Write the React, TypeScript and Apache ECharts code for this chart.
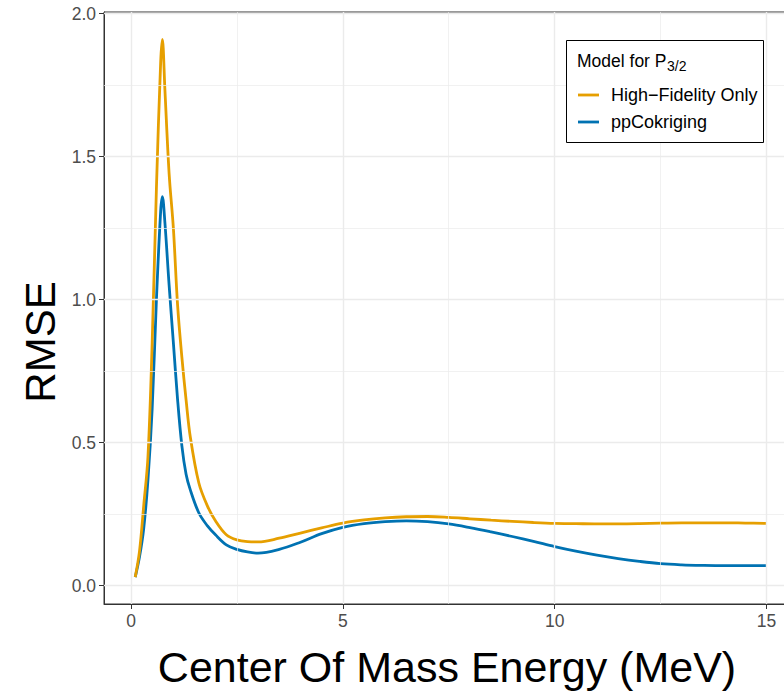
import React, { useEffect, useRef } from "react";
import * as echarts from "echarts";

const energy = [
  0.1, 0.2, 0.3, 0.4, 0.5, 0.6, 0.7, 0.74, 0.8, 0.9, 1.0, 1.1, 1.2, 1.3, 1.4,
  1.6, 1.8, 2.0, 2.25, 2.5, 2.75, 3.0, 3.5, 4.0, 4.5, 5.0, 5.5, 6.0, 6.5, 7.0,
  7.5, 8.0, 8.5, 9.0, 9.5, 10, 10.5, 11, 11.5, 12, 12.5, 13, 13.5, 14, 14.5, 15,
];
const highFidelity = [
  0.03, 0.12, 0.28, 0.45, 0.85, 1.39, 1.83, 1.91, 1.735, 1.44, 1.25, 0.98, 0.8,
  0.65, 0.52, 0.36, 0.28, 0.225, 0.178, 0.16, 0.154, 0.153, 0.166, 0.184, 0.202,
  0.219, 0.23, 0.237, 0.241, 0.242, 0.239, 0.234, 0.229, 0.225, 0.221, 0.218,
  0.217, 0.216, 0.216, 0.217, 0.219, 0.22, 0.22, 0.22, 0.219, 0.218,
];
const ppCokriging = [
  0.03, 0.1, 0.2, 0.37, 0.62, 1.0, 1.31, 1.36, 1.27, 1.05, 0.85, 0.65, 0.49,
  0.39, 0.335, 0.255, 0.21, 0.177, 0.143, 0.127, 0.118, 0.114, 0.127, 0.152,
  0.182, 0.204, 0.217, 0.224, 0.227, 0.224, 0.216, 0.203, 0.188, 0.172, 0.155,
  0.137, 0.121, 0.107, 0.095, 0.085, 0.077, 0.073, 0.071, 0.07, 0.07, 0.07,
];
const xTicks = [0, 5, 10, 15];
const xMinor = [2.5, 7.5, 12.5];
const yTicks = [0, 0.5, 1, 1.5, 2];
const yMinor = [0.25, 0.75, 1.25, 1.75];
const seriesNames = ["High\u2212Fidelity Only", "ppCokriging"];
const seriesColors = ["#E69F00", "#0072B2"];
const legendTitle = "Model for P";
const legendSub = "3/2";
const xTitle = "Center Of Mass Energy (MeV)";
const yTitle = "RMSE";

export default function App() {
  const ref = useRef<HTMLDivElement>(null);
  useEffect(() => {
    const chart = echarts.init(ref.current!, null, { renderer: "svg" });
    const font = "'Liberation Sans', Arial, Helvetica, sans-serif";
    const gl = (axis: string, v: number, w: number) => ({
      [axis]: v,
      lineStyle: { color: "#EBEBEB", width: w, type: "solid" },
    });
    const gridLines = [
      ...xMinor.map((v) => gl("xAxis", v, 0.7)),
      ...yMinor.map((v) => gl("yAxis", v, 0.7)),
      ...xTicks.map((v) => gl("xAxis", v, 1.4)),
      ...yTicks.map((v) => gl("yAxis", v, 1.4)),
    ];
    const series: any[] = [
      {
        name: "__grid",
        type: "line",
        data: [],
        z: 1,
        silent: true,
        markLine: {
          silent: true,
          symbol: ["none", "none"],
          label: { show: false },
          animation: false,
          data: gridLines,
        },
      },
      ...seriesNames.map((name, i) => ({
        name,
        type: "line",
        z: 3 + (1 - i),
        data: energy.map((e, j) => [e, i === 0 ? highFidelity[j] : ppCokriging[j]]),
        showSymbol: false,
        symbol: "none",
        smooth: 0.35,
        lineStyle: { color: seriesColors[i], width: 2.8 },
        itemStyle: { color: seriesColors[i] },
      })),
    ];
    chart.setOption({
      animation: false,
      backgroundColor: "#fff",
      grid: {
        left: 104,
        top: 12,
        right: 2,
        bottom: 89,
        show: true,
        borderColor: "#333",
        borderWidth: 1,
        backgroundColor: "#fff",
      },
      xAxis: {
        type: "value",
        min: -0.6375,
        max: 15.745,
        axisLine: { show: true, onZero: false, lineStyle: { color: "#333", width: 1 } },
        axisTick: { show: true, customValues: xTicks, length: 5, lineStyle: { color: "#333" } },
        axisLabel: {
          customValues: xTicks,
          color: "#4D4D4D",
          fontSize: 17.5,
          fontFamily: font,
          margin: 8,
        },
        splitLine: { show: false },
      },
      yAxis: {
        type: "value",
        min: -0.064,
        max: 2.006,
        axisLine: { show: true, onZero: false, lineStyle: { color: "#333", width: 1 } },
        axisTick: { show: true, customValues: yTicks, length: 5, lineStyle: { color: "#333" } },
        axisLabel: {
          customValues: yTicks,
          color: "#4D4D4D",
          fontSize: 17.5,
          fontFamily: font,
          margin: 8,
          formatter: (v: number) => v.toFixed(1),
        },
        splitLine: { show: false },
      },
      legend: {
        data: seriesNames,
        orient: "vertical",
        left: 578,
        top: 85,
        padding: 0,
        itemGap: 7,
        itemWidth: 21,
        itemHeight: 2.8,
        icon: "rect",
        z: 20,
        textStyle: {
          fontSize: 18,
          color: "#000",
          fontFamily: font,
          lineHeight: 20,
          padding: [0, 0, 0, 7],
        },
      },
      graphic: [
        {
          type: "text",
          z: 5,
          x: 447,
          y: 667,
          style: {
            text: xTitle,
            fontSize: 43,
            fontFamily: font,
            fill: "#000",
            align: "center",
            verticalAlign: "middle",
          },
        },
        {
          type: "text",
          z: 5,
          x: 40,
          y: 342,
          rotation: Math.PI / 2,
          style: {
            text: yTitle,
            fontSize: 42,
            fontFamily: font,
            fill: "#000",
            align: "center",
            verticalAlign: "middle",
          },
        },
        {
          type: "rect",
          z: 10,
          shape: { x: 566.5, y: 40.5, width: 197, height: 102 },
          style: { fill: "#fff", stroke: "#000", lineWidth: 1 },
        },
        {
          type: "text",
          z: 11,
          x: 577,
          y: 61,
          style: {
            text: legendTitle,
            fontSize: 17.5,
            fontFamily: font,
            fill: "#000",
            verticalAlign: "middle",
          },
        },
        {
          type: "text",
          z: 11,
          x: 667,
          y: 66,
          style: {
            text: legendSub,
            fontSize: 14,
            fontFamily: font,
            fill: "#000",
            verticalAlign: "middle",
          },
        },
      ],
      series,
    });
    return () => chart.dispose();
  }, []);
  return (
    <div
      style={{
        position: "absolute",
        left: 0,
        top: 0,
        width: 784,
        height: 693,
        overflow: "hidden",
        background: "#fff",
      }}
    >
      <div ref={ref} style={{ width: 800, height: 693 }} />
    </div>
  );
}
